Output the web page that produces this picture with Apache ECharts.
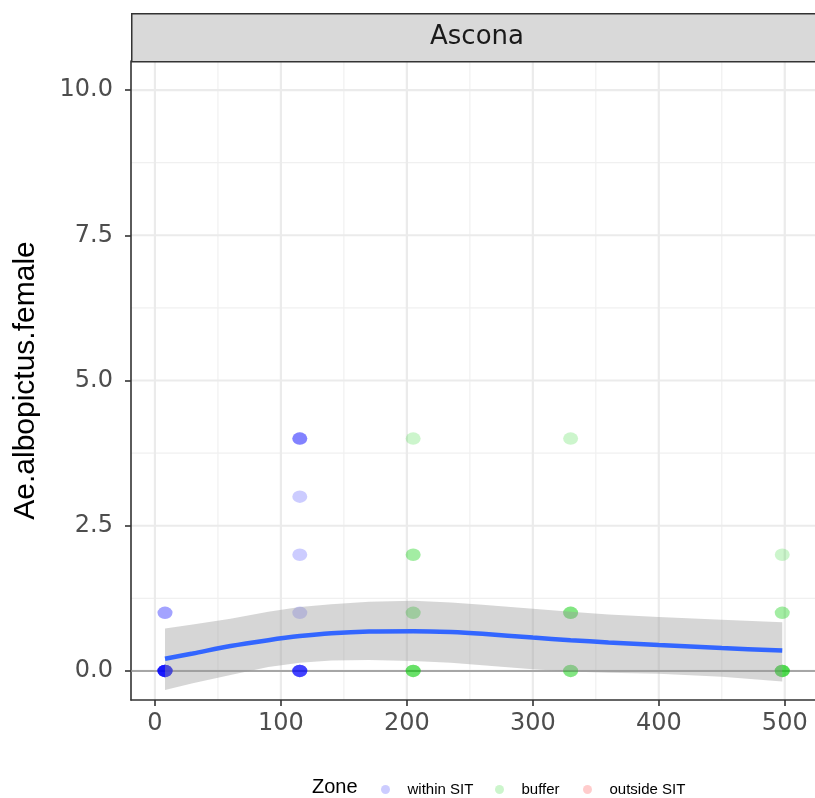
<!DOCTYPE html>
<html>
<head>
<meta charset="utf-8">
<script src="https://cdn.jsdelivr.net/npm/echarts@6/dist/echarts.min.js"></script>
<style>
html,body{margin:0;padding:0;background:#fff;}
#chart{width:815px;height:798px;}
</style>
</head>
<body>
<div id="chart"></div>
<script>
// ---------- data ----------
const panelTitle = 'Ascona';
const yTitle = 'Ae.albopictus.female';
const xTicks = [0, 100, 200, 300, 400, 500];
const xMinor = [50, 150, 250, 350, 450];
const yTicks = [0, 2.5, 5, 7.5, 10];
const yMinor = [1.25, 3.75, 6.25, 8.75];

const withinX = [8,8,8,8,8,8,8,8,8,8,8,8,115,115,115,115,115,115,115,115,115,115,115,115];
const withinY = [0,0,0,0,0,0,0,0,0,0,1,1,0,0,0,0,0,0,1,2,3,4,4,4];

const bufferX = [205,205,205,205,205,205,205,205,205,330,330,330,330,330,330,330,498,498,498,498,498,498,498,498];
const bufferY = [0,0,0,0,1,1,2,2,4,0,0,0,1,1,1,4,0,0,0,0,0,1,1,2];

const outsideX = [];
const outsideY = [];

const smoothX     = [8, 30, 60, 90, 115, 140, 170, 205, 235, 260, 300, 330, 360, 400, 450, 498];
const smoothY     = [0.21, 0.30, 0.43, 0.53, 0.60, 0.65, 0.68, 0.685, 0.67, 0.64, 0.575, 0.53, 0.49, 0.445, 0.395, 0.35];
const smoothLower = [-0.33, -0.21, -0.07, 0.07, 0.14, 0.18, 0.19, 0.17, 0.14, 0.10, 0.03, -0.01, -0.03, -0.05, -0.10, -0.18];
const smoothUpper = [0.73, 0.80, 0.90, 1.02, 1.10, 1.15, 1.19, 1.21, 1.18, 1.14, 1.07, 1.02, 0.97, 0.93, 0.88, 0.84];

const hlineY = [0];

// ---------- chart ----------
const zip = (a, b) => a.map((v, i) => [v, b[i]]);
const chart = echarts.init(document.getElementById('chart'), null, {renderer: 'canvas'});

const X_MIN = -19, X_MAX = 524, Y_MIN = -0.5, Y_MAX = 10.5;
const gridColor = '#ebebeb';

function vLine(color, width) {
  return function (params, api) {
    const cs = params.coordSys;
    const px = api.coord([api.value(0), 0])[0];
    return {type: 'line', shape: {x1: px, y1: cs.y, x2: px, y2: cs.y + cs.height},
            style: {stroke: color, lineWidth: width}, silent: true};
  };
}
function hLine(color, width) {
  return function (params, api) {
    const cs = params.coordSys;
    const py = api.coord([0, api.value(1)])[1];
    return {type: 'line', shape: {x1: cs.x, y1: py, x2: cs.x + cs.width, y2: py},
            style: {stroke: color, lineWidth: width}, silent: true};
  };
}

const legendText = {fontFamily: 'Liberation Sans', fontSize: 15, color: '#000'};

const option = {
  backgroundColor: '#ffffff',
  animation: false,
  grid: {left: 131, right: 0, top: 61, bottom: 98, containLabel: false, outerBoundsMode: 'none'},
  xAxis: {
    type: 'value', min: X_MIN, max: X_MAX,
    axisLine: {show: true, onZero: false, lineStyle: {color: '#333333', width: 1.6}},
    axisTick: {show: true, length: 6, customValues: xTicks, lineStyle: {color: '#333333', width: 1.6}},
    axisLabel: {show: true, customValues: xTicks, margin: 12, color: '#4d4d4d',
                fontFamily: 'DejaVu Sans', fontSize: 24},
    splitLine: {show: false}
  },
  yAxis: {
    type: 'value', min: Y_MIN, max: Y_MAX,
    name: yTitle, nameLocation: 'middle', nameRotate: 90, nameGap: 90,
    nameTextStyle: {fontFamily: 'Liberation Sans', fontSize: 30, color: '#000000'},
    axisLine: {show: true, onZero: false, lineStyle: {color: '#333333', width: 1.6}},
    axisTick: {show: true, length: 6, customValues: yTicks, lineStyle: {color: '#333333', width: 1.6}},
    axisLabel: {show: true, customValues: yTicks, margin: 18, color: '#4d4d4d',
                fontFamily: 'DejaVu Sans', fontSize: 24,
                formatter: v => Number(v).toFixed(1)},
    splitLine: {show: false}
  },
  legend: [
    {data: [{name: 'within SIT', itemStyle: {color: 'rgba(0,0,255,0.25)'}}], icon: 'circle',
     left: 376, top: 777, itemWidth: 34, itemHeight: 9, textStyle: legendText},
    {data: [{name: 'buffer', itemStyle: {color: 'rgba(0,205,0,0.25)'}}], icon: 'circle',
     left: 490, top: 777, itemWidth: 34, itemHeight: 9, textStyle: legendText},
    {data: [{name: 'outside SIT', itemStyle: {color: 'rgba(255,0,0,0.25)'}}], icon: 'circle',
     left: 578, top: 777, itemWidth: 34, itemHeight: 9, textStyle: legendText}
  ],
  graphic: [
    {type: 'rect', left: 131, top: 13, z: 100,
     shape: {x: 0, y: 0, width: 690, height: 48},
     style: {fill: '#d9d9d9', stroke: '#333333', lineWidth: 1.5}},
    {type: 'text', x: 477, y: 37, z: 101,
     style: {text: panelTitle, font: '26px "DejaVu Sans"', fill: '#1a1a1a',
             textAlign: 'center', textVerticalAlign: 'middle'}},
    {type: 'text', x: 312, y: 787, z: 101,
     style: {text: 'Zone', font: '20px "Liberation Sans"', fill: '#000',
             textAlign: 'left', textVerticalAlign: 'middle'}}
  ],
  series: [
    {type: 'custom', name: 'gridMinorX', silent: true, z: 0, clip: true,
     data: xMinor.map(v => [v, 0]), encode: {x: 0, y: 1}, renderItem: vLine('#f0f0f0', 1.2)},
    {type: 'custom', name: 'gridMinorY', silent: true, z: 0, clip: true,
     data: yMinor.map(v => [0, v]), encode: {x: 0, y: 1}, renderItem: hLine('#f0f0f0', 1.2)},
    {type: 'custom', name: 'gridMajorX', silent: true, z: 0, clip: true,
     data: xTicks.map(v => [v, 0]), encode: {x: 0, y: 1}, renderItem: vLine(gridColor, 2.2)},
    {type: 'custom', name: 'gridMajorY', silent: true, z: 0, clip: true,
     data: yTicks.map(v => [0, v]), encode: {x: 0, y: 1}, renderItem: hLine(gridColor, 2.2)},
    {type: 'custom', name: 'hline', silent: true, z: 1, clip: true,
     data: hlineY.map(v => [0, v]), encode: {x: 0, y: 1}, renderItem: hLine('#8f8f8f', 1.5)},
    {type: 'scatter', name: 'within SIT', z: 2, data: zip(withinX, withinY),
     symbol: 'circle', symbolSize: [15, 12.5],
     itemStyle: {color: 'rgba(0,0,255,0.25)'}},
    {type: 'scatter', name: 'buffer', z: 2, data: zip(bufferX, bufferY),
     symbol: 'circle', symbolSize: [15, 12.5],
     itemStyle: {color: 'rgba(0,205,0,0.25)'}},
    {type: 'scatter', name: 'outside SIT', z: 2, data: zip(outsideX, outsideY),
     symbol: 'circle', symbolSize: [15, 12.5],
     itemStyle: {color: 'rgba(255,0,0,0.25)'}},
    {type: 'custom', name: 'ribbon', silent: true, z: 3, clip: true,
     data: smoothX.map((x, i) => [x, smoothLower[i], smoothUpper[i]]),
     encode: {x: 0, y: [1, 2]},
     renderItem: function (params, api) {
       if (params.dataIndex !== 0) return null;
       const pts = [];
       for (let i = 0; i < smoothX.length; i++) pts.push(api.coord([smoothX[i], smoothUpper[i]]));
       for (let i = smoothX.length - 1; i >= 0; i--) pts.push(api.coord([smoothX[i], smoothLower[i]]));
       return {type: 'polygon', shape: {points: pts},
               style: {fill: 'rgba(153,153,153,0.4)', stroke: null}};
     }},
    {type: 'line', name: 'smooth', z: 4, data: zip(smoothX, smoothY),
     showSymbol: false, smooth: 0.3, silent: true,
     lineStyle: {color: '#3366ff', width: 4.5}}
  ]
};
chart.setOption(option);
</script>
</body>
</html>
